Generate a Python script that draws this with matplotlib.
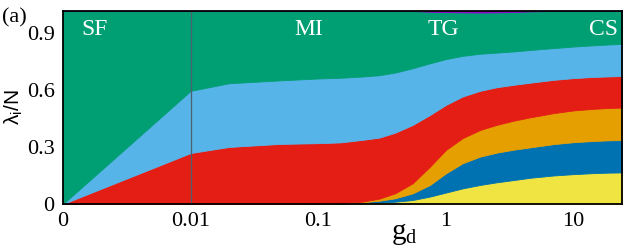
import numpy as np
import matplotlib
matplotlib.use('Agg')
import matplotlib.pyplot as plt
import matplotlib.ticker as ticker

plt.rcParams['font.family'] = 'Liberation Serif'
plt.rcParams['mathtext.fontset'] = 'custom'
plt.rcParams['mathtext.rm'] = 'Liberation Serif'
plt.rcParams['mathtext.it'] = 'Liberation Serif:italic'
plt.rcParams['mathtext.sf'] = 'Liberation Sans'

# g_d sample points
g_d = [0, 0.01, 0.02, 0.05, 0.1, 0.15, 0.22, 0.3, 0.4, 0.55, 0.75, 1.0, 1.35, 1.85, 2.5, 3.5, 4.6, 7, 10, 14, 19, 24]

# cumulative boundaries (bottom to top)
cum_yellow = [0, 0, 0, 0, 0.001, 0.002, 0.004, 0.007, 0.012, 0.021, 0.039, 0.06, 0.082, 0.1, 0.114, 0.127, 0.138, 0.15, 0.157, 0.162, 0.165, 0.166]
cum_blue = [0, 0, 0, 0, 0.001, 0.003, 0.009, 0.017, 0.03, 0.056, 0.1, 0.161, 0.214, 0.249, 0.27, 0.287, 0.298, 0.315, 0.325, 0.331, 0.335, 0.336]
cum_orange = [0, 0, 0, 0, 0.002, 0.005, 0.012, 0.028, 0.056, 0.109, 0.196, 0.284, 0.346, 0.389, 0.416, 0.44, 0.456, 0.478, 0.492, 0.5, 0.505, 0.507]
cum_red = [0, 0.268, 0.30, 0.316, 0.32, 0.324, 0.337, 0.349, 0.375, 0.416, 0.468, 0.521, 0.565, 0.595, 0.614, 0.628, 0.638, 0.653, 0.662, 0.668, 0.671, 0.673]
cum_lblue = [0, 0.595, 0.635, 0.65, 0.66, 0.664, 0.67, 0.677, 0.691, 0.714, 0.74, 0.762, 0.779, 0.79, 0.796, 0.803, 0.81, 0.82, 0.828, 0.834, 0.839, 0.842]
purple = [0, 0, 0, 0, 0, 0, 0, 0, 0, 0, 0.004, 0.006, 0.007, 0.008, 0.007, 0.005, 0.002, 0, 0, 0, 0, 0]

phase_labels = ['SF', 'MI', 'TG', 'CS']
phase_x = [0.0025, 0.084, 0.96, 17.3]

x_ticks = [0, 0.01, 0.1, 1, 10]
x_ticklabels = ['0', '0.01', '0.1', '1', '10']
y_ticks = [0, 0.3, 0.6, 0.9]
y_ticklabels = ['0', '0.3', '0.6', '0.9']

ytop = 1.015

g = np.array(g_d)
bounds = [np.array(c) for c in (cum_yellow, cum_blue, cum_orange, cum_red, cum_lblue)]
layers = [bounds[0]] + [bounds[i] - bounds[i - 1] for i in range(1, 5)]
pur = np.array(purple)
green = ytop - bounds[-1] - pur
layers += [green, pur]
colors = ['#f0e442', '#0072b2', '#e69f00', '#e41e14', '#56b4e9', '#009e73', '#9400d3']


def fwd(x):
    x = np.asarray(x, dtype=float)
    return np.where(x <= 0.01, x / 0.01, 1.0 + np.log10(np.maximum(x, 1e-12) / 0.01))


def inv(t):
    t = np.asarray(t, dtype=float)
    return np.where(t <= 1.0, t * 0.01, 0.01 * 10.0 ** (t - 1.0))


fig = plt.figure(figsize=(6.29, 2.46), dpi=100)
ax = fig.add_axes([63 / 629, 42 / 246, 559 / 629, 193 / 246])

ax.set_xscale('function', functions=(fwd, inv))
ax.stackplot(g, *layers, colors=colors, linewidth=0.6)
for coll, c in zip(ax.collections, colors):
    coll.set_edgecolor(c)

ax.axvline(0.01, color='#4c6170', lw=0.9)

for lab, xp in zip(phase_labels, phase_x):
    ax.text(xp, 0.92, lab, color='white', fontsize=17, ha='center', va='center')

ax.set_xlim(0, 24)
ax.set_ylim(0, ytop)
ax.xaxis.set_major_locator(ticker.FixedLocator(x_ticks))
ax.xaxis.set_minor_locator(ticker.NullLocator())
ax.set_xticklabels(x_ticklabels)
ax.yaxis.set_major_locator(ticker.FixedLocator(y_ticks))
ax.set_yticklabels(y_ticklabels)
ax.tick_params(which='both', length=0, labelsize=16, pad=6)

for sp in ax.spines.values():
    sp.set_linewidth(1.3)

ax.set_xlabel(r'g$_\mathrm{d}$', fontsize=21)
ax.xaxis.set_label_coords(0.61, -0.09)
ax.set_ylabel(r'$\mathsf{\lambda_i/N}$', fontsize=15, va='center')
ax.yaxis.set_label_coords(-0.088, 0.5)

fig.text(2 / 629, 1 - 18 / 246, '(a)', fontsize=16, va='center', ha='left')

fig.savefig('out.png', dpi=100)
plt.close()
